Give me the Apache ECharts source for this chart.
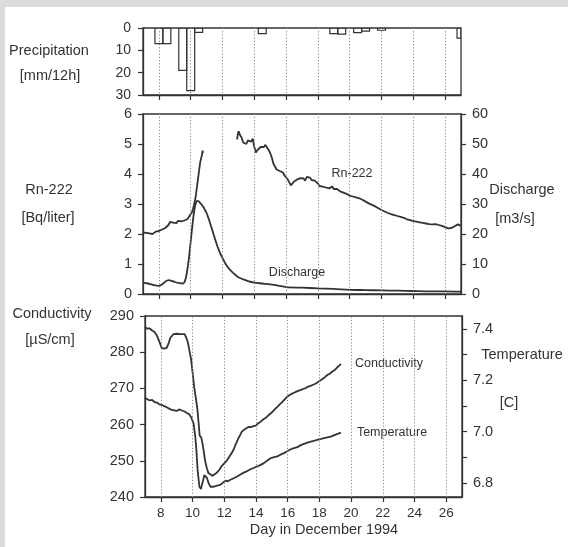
<!DOCTYPE html>
<html>
<head>
<meta charset="utf-8">
<script src="https://cdn.jsdelivr.net/npm/echarts@6/dist/echarts.min.js"></script>
<style>
  html, body { margin: 0; padding: 0; background: #dcdcdc; }
  #chart { width: 568px; height: 547px; }
</style>
</head>
<body>
<div id="chart"></div>
<script>
// ---------- DATA ----------
const dayTicks = [8, 10, 12, 14, 16, 18, 20, 22, 24, 26];

// Precipitation per 12 h, bar centre day and mm
const precipDays = [8.0, 8.5, 9.5, 10.0, 10.5, 14.5, 19.0, 19.5, 20.5, 21.0, 22.0, 27.0];
const precipMm   = [7,   7,   19,  28,   2,    2.5,  2.5,  2.7,  2.1,  1.4,  1.0,  4.5];

// Rn-222 [Bq/liter]  (null = gap in record)
const rn222 = [
  [7.0,2.05],[7.1,2.1],[7.2,2.04],[7.3,2.08],[7.4,2.02],[7.5,2.07],[7.6,2.0],[7.7,2.06],[7.8,2.08],[7.9,2.03],
  [8.0,2.1],[8.1,2.12],[8.2,2.15],[8.3,2.13],[8.4,2.2],[8.5,2.18],[8.6,2.3],[8.7,2.4],[8.8,2.45],[8.9,2.38],
  [9.0,2.42],[9.1,2.36],[9.2,2.44],[9.3,2.38],[9.4,2.42],[9.5,2.37],[9.6,2.45],[9.7,2.48],[9.8,2.5],[9.9,2.58],
  [10.0,2.62],[10.1,2.75],[10.2,2.95],[10.3,3.2],[10.4,3.6],[10.5,4.0],[10.6,4.4],[10.7,4.62],[10.75,4.78],[10.78,4.7],
  [11.5,null],
  [12.92,5.15],[12.97,5.35],[13.02,5.42],[13.1,5.3],[13.2,5.22],[13.3,5.05],[13.4,5.1],[13.5,5.0],[13.6,5.12],[13.7,5.15],
  [13.8,5.08],[13.9,5.18],[14.0,4.9],[14.1,4.72],[14.2,4.8],[14.3,4.85],[14.4,4.9],[14.5,4.95],[14.6,4.9],[14.7,4.97],
  [14.8,4.92],[14.9,4.8],[15.0,4.7],[15.1,4.55],[15.2,4.35],[15.3,4.25],[15.4,4.15],[15.5,4.18],[15.6,4.1],[15.7,4.12],
  [15.8,4.05],[15.9,3.95],[16.0,3.9],[16.1,3.82],[16.2,3.72],[16.3,3.62],[16.4,3.58],[16.5,3.75],[16.6,3.7],[16.7,3.82],
  [16.8,3.78],[16.9,3.86],[17.0,3.8],[17.1,3.85],[17.2,3.78],[17.3,3.9],[17.4,3.84],[17.5,3.88],[17.6,3.8],[17.7,3.86],
  [17.8,3.78],[17.9,3.74],[18.0,3.68],[18.1,3.6],[18.2,3.62],[18.3,3.58],[18.4,3.64],[18.5,3.55],[18.6,3.58],[18.7,3.52],
  [18.8,3.56],[18.9,3.58],[19.0,3.5],[19.1,3.53],[19.2,3.5],[19.3,3.45],[19.4,3.42],[19.5,3.44],[19.6,3.38],[19.7,3.4],
  [19.8,3.34],[19.9,3.31],[20.0,3.28],[20.1,3.3],[20.2,3.25],[20.3,3.26],[20.4,3.22],[20.5,3.23],[20.6,3.19],[20.7,3.17],
  [20.8,3.14],[20.9,3.12],[21.0,3.08],[21.1,3.06],[21.2,3.02],[21.3,3.01],[21.4,2.97],[21.5,2.95],[21.6,2.92],[21.7,2.88],
  [21.8,2.86],[21.9,2.83],[22.0,2.8],[22.1,2.79],[22.2,2.75],[22.3,2.73],[22.4,2.7],[22.5,2.69],[22.6,2.66],[22.7,2.65],
  [22.8,2.63],[22.9,2.61],[23.0,2.6],[23.1,2.58],[23.2,2.57],[23.3,2.55],[23.4,2.54],[23.5,2.51],[23.6,2.49],[23.7,2.48],
  [23.8,2.46],[23.9,2.45],[24.0,2.43],[24.1,2.43],[24.2,2.41],[24.3,2.4],[24.4,2.39],[24.5,2.38],[24.6,2.37],[24.7,2.36],
  [24.8,2.35],[24.9,2.34],[25.0,2.33],[25.1,2.31],[25.2,2.32],[25.3,2.34],[25.4,2.33],[25.5,2.31],[25.6,2.3],[25.7,2.29],
  [25.8,2.27],[25.9,2.25],[26.0,2.23],[26.1,2.21],[26.2,2.19],[26.3,2.18],[26.4,2.2],[26.5,2.23],[26.6,2.26],[26.7,2.3],
  [26.8,2.32],[26.9,2.3],[27.0,2.27]
];

// Discharge [m3/s]
const discharge = [
  [7.0,3.8],[7.3,3.5],[7.65,3.0],[8.0,2.7],[8.2,3.2],[8.4,4.1],[8.6,4.6],[8.8,4.4],[9.0,4.0],[9.3,3.6],
  [9.5,3.5],[9.6,3.9],[9.7,5.5],[9.8,8.5],[9.9,12.5],[10.0,17.5],[10.1,22.5],[10.2,27.0],[10.3,29.8],[10.4,31.0],
  [10.5,30.9],[10.6,30.3],[10.7,29.7],[10.8,29.0],[10.9,28.0],[11.0,27.0],[11.1,25.5],[11.2,24.0],[11.3,22.3],[11.4,20.6],
  [11.5,18.8],[11.6,17.2],[11.7,15.6],[11.8,14.3],[11.9,13.0],[12.0,12.0],[12.2,10.0],[12.4,8.5],[12.6,7.4],[12.8,6.4],
  [13.0,5.6],[13.3,4.9],[13.6,4.3],[14.0,3.8],[14.5,3.5],[15.0,3.2],[15.5,2.8],[16.0,2.3],[17.0,2.1],[18.0,1.9],
  [19.0,1.7],[20.0,1.4],[21.0,1.3],[22.0,1.2],[23.0,1.1],[24.0,1.0],[25.0,0.9],[26.0,0.9],[27.0,0.8]
];

// Conductivity [uS/cm]
const conductivity = [
  [7.0,287.0],[7.15,286.5],[7.3,286.6],[7.45,286.0],[7.6,285.6],[7.75,284.6],[7.9,283.0],[8.05,281.2],[8.2,281.0],[8.37,281.2],
  [8.5,282.6],[8.6,284.0],[8.8,285.0],[9.0,285.1],[9.2,285.0],[9.5,285.0],[9.6,284.0],[9.7,282.8],[9.8,280.5],[9.9,278.3],
  [10.0,274.5],[10.1,270.5],[10.2,267.5],[10.3,264.5],[10.38,260.5],[10.45,257.0],[10.55,256.4],[10.62,255.0],[10.7,252.8],[10.8,249.8],
  [10.9,248.0],[11.0,246.6],[11.1,246.1],[11.25,245.9],[11.4,246.3],[11.55,246.8],[11.7,247.6],[11.85,248.6],[12.0,249.3],[12.15,250.0],
  [12.3,251.0],[12.45,252.0],[12.6,253.2],[12.7,254.3],[12.8,255.3],[12.9,256.3],[13.0,257.1],[13.1,258.0],[13.25,258.6],[13.4,259.0],
  [13.55,259.4],[13.7,259.3],[13.85,259.6],[14.0,259.7],[14.15,260.4],[14.3,260.8],[14.45,261.4],[14.6,261.8],[14.75,262.4],[14.9,263.0],
  [15.05,263.6],[15.2,264.3],[15.35,264.9],[15.5,265.6],[15.65,266.2],[15.8,266.9],[15.95,267.6],[16.1,268.1],[16.25,268.5],[16.4,268.8],
  [16.55,269.1],[16.7,269.4],[16.85,269.6],[17.0,269.9],[17.15,270.1],[17.3,270.5],[17.45,270.7],[17.6,271.0],[17.75,271.3],[17.9,271.7],
  [18.05,272.2],[18.2,272.6],[18.35,273.1],[18.5,273.7],[18.65,274.0],[18.8,274.6],[18.95,275.0],[19.1,275.7],[19.25,276.3],[19.36,276.8]
];

// Temperature [C]
const temperature = [
  [7.0,7.130],[7.15,7.126],[7.3,7.121],[7.45,7.123],[7.6,7.115],[7.75,7.113],[7.9,7.106],[8.05,7.104],[8.2,7.099],[8.37,7.095],
  [8.5,7.090],[8.69,7.084],[8.85,7.082],[9.0,7.080],[9.15,7.086],[9.32,7.082],[9.5,7.078],[9.64,7.072],[9.78,7.068],[9.85,7.064],
  [9.92,7.055],[9.98,7.050],[10.07,7.030],[10.17,6.980],[10.24,6.930],[10.32,6.850],[10.43,6.786],[10.53,6.776],[10.6,6.795],[10.67,6.810],
  [10.74,6.830],[10.82,6.826],[10.9,6.820],[11.01,6.800],[11.12,6.785],[11.23,6.779],[11.35,6.785],[11.44,6.783],[11.6,6.790],[11.75,6.792],
  [11.9,6.800],[12.07,6.809],[12.2,6.806],[12.39,6.812],[12.6,6.818],[12.81,6.825],[13.0,6.832],[13.23,6.840],[13.45,6.846],[13.65,6.853],
  [13.85,6.858],[14.08,6.864],[14.3,6.870],[14.5,6.877],[14.7,6.886],[14.92,6.896],[15.1,6.899],[15.34,6.903],[15.55,6.910],[15.77,6.916],
  [16.0,6.924],[16.19,6.931],[16.4,6.935],[16.61,6.939],[16.8,6.946],[17.03,6.952],[17.25,6.957],[17.46,6.961],[17.65,6.964],[17.88,6.968],
  [18.1,6.971],[18.3,6.974],[18.5,6.977],[18.72,6.980],[18.95,6.986],[19.15,6.991],[19.36,6.996]
];

const tempTicks  = [6.8, 6.9, 7.0, 7.1, 7.2, 7.3, 7.4];
const tempLabels = [6.8, 7.0, 7.2, 7.4];

// ---------- STYLE ----------
const FONT = '"Liberation Sans", Arial, Helvetica, sans-serif';
const INK = '#333333';
const LINE = '#333333';
const GRIDC = '#8a8a8a';

const chart = echarts.init(document.getElementById('chart'), null, { renderer: 'canvas' });

function gridMarks() {
  return {
    silent: true,
    symbol: ['none', 'none'],
    label: { show: false },
    lineStyle: { type: [1.2, 2], color: GRIDC, width: 1 },
    emphasis: { disabled: true },
    animation: false,
    data: dayTicks.map(d => ({ xAxis: d }))
  };
}

function xAxisFor(gridIndex, showLabels) {
  return {
    type: 'value', gridIndex, min: 7, max: 27,
    axisLine: { show: true, onZero: false, lineStyle: { color: LINE, width: 1.3 } },
    axisTick: { show: true, customValues: dayTicks, length: 5, inside: false, lineStyle: { color: LINE, width: 1.2 } },
    axisLabel: { show: showLabels, customValues: dayTicks, fontSize: 13.5, color: INK, fontFamily: FONT, margin: 9 },
    splitLine: { show: false }
  };
}

function yAxisBase(gridIndex, position, extra) {
  return Object.assign({
    type: 'value', gridIndex, position,
    axisLine: { show: true, onZero: false, lineStyle: { color: LINE, width: 1.3 } },
    axisTick: { show: true, length: 5, inside: false, lineStyle: { color: LINE, width: 1.2 } },
    axisLabel: { fontSize: 14.5, color: INK, fontFamily: FONT, margin: 11 },
    splitLine: { show: false }
  }, extra);
}

const lineStyleMain = { color: LINE, width: 1.8 };

function label(text, x, y, size) {
  return { type: 'text', silent: true, x, y,
    style: { text, fill: INK, font: size + 'px ' + FONT, align: 'center', verticalAlign: 'middle' } };
}

const option = {
  animation: false,
  backgroundColor: '#dcdcdc',
  textStyle: { fontFamily: FONT },
  graphic: [
    { type: 'rect', z: -10, silent: true, shape: { x: 5, y: 7, width: 563, height: 540 }, style: { fill: '#ffffff' } },
    label('Precipitation', 49, 51, 14.5),
    label('[mm/12h]', 50, 76, 14.5),
    label('Rn-222', 49, 190, 14.5),
    label('[Bq/liter]', 48, 218, 14.5),
    label('Conductivity', 52, 314, 14.5),
    label('[\u00B5S/cm]', 50, 340, 14.5),
    label('Discharge', 522, 190, 14.5),
    label('[m3/s]', 515, 219, 14.5),
    label('Temperature', 522, 355, 14.5),
    label('[C]', 509, 403, 14.5),
    label('Day in December 1994', 324, 530, 14.5),
    label('Rn-222', 352, 174, 12.5),
    label('Discharge', 297, 273, 12.5),
    label('Conductivity', 389, 364, 12.5),
    label('Temperature', 392, 433, 12.5)
  ],
  grid: [
    { left: 143, top: 28, width: 318, height: 67, show: true, borderColor: LINE, borderWidth: 1.3, backgroundColor: 'transparent' },
    { left: 143, top: 114, width: 318, height: 180, show: true, borderColor: LINE, borderWidth: 1.3, backgroundColor: 'transparent' },
    { left: 145, top: 316, width: 317, height: 181, show: true, borderColor: LINE, borderWidth: 1.3, backgroundColor: 'transparent' }
  ],
  xAxis: [xAxisFor(0, false), xAxisFor(1, false), xAxisFor(2, true)],
  yAxis: [
    yAxisBase(0, 'left', { min: 0, max: 30, interval: 10, inverse: true, axisLabel: { fontSize: 14, color: INK, fontFamily: FONT, margin: 12 } }),
    yAxisBase(1, 'left', { min: 0, max: 6, interval: 1 }),
    yAxisBase(1, 'right', { min: 0, max: 60, interval: 10 }),
    yAxisBase(2, 'left', { min: 240, max: 290, interval: 10 }),
    yAxisBase(2, 'right', {
      min: 6.745, max: 7.45,
      axisTick: { show: true, customValues: tempTicks, length: 5, lineStyle: { color: LINE, width: 1.2 } },
      axisLabel: { customValues: tempLabels, fontSize: 14.5, color: INK, fontFamily: FONT, margin: 11, formatter: v => Number(v).toFixed(1) }
    })
  ],
  series: [
    {
      name: 'Precipitation', type: 'custom', xAxisIndex: 0, yAxisIndex: 0, clip: true,
      data: precipDays.map((d, i) => [d, precipMm[i]]),
      renderItem: function (params, api) {
        const d = api.value(0), v = api.value(1);
        const p0 = api.coord([d - 0.25, 0]);
        const p1 = api.coord([d + 0.25, v]);
        const rect = echarts.graphic.clipRectByRect(
          { x: Math.min(p0[0], p1[0]), y: Math.min(p0[1], p1[1]), width: Math.abs(p1[0] - p0[0]), height: Math.abs(p1[1] - p0[1]) },
          { x: params.coordSys.x, y: params.coordSys.y, width: params.coordSys.width, height: params.coordSys.height }
        );
        return rect && { type: 'rect', shape: rect, style: { fill: 'none', stroke: LINE, lineWidth: 1.2 } };
      },
      markLine: gridMarks()
    },
    {
      name: 'Rn-222', type: 'line', xAxisIndex: 1, yAxisIndex: 1, data: rn222, showSymbol: false, symbol: 'none',
      connectNulls: false, lineStyle: lineStyleMain, markLine: gridMarks()
    },
    {
      name: 'Discharge', type: 'line', xAxisIndex: 1, yAxisIndex: 2, data: discharge, showSymbol: false, symbol: 'none',
      smooth: 0.3, lineStyle: lineStyleMain
    },
    {
      name: 'Conductivity', type: 'line', xAxisIndex: 2, yAxisIndex: 3, data: conductivity, showSymbol: false, symbol: 'none',
      lineStyle: lineStyleMain, markLine: gridMarks()
    },
    {
      name: 'Temperature', type: 'line', xAxisIndex: 2, yAxisIndex: 4, data: temperature, showSymbol: false, symbol: 'none',
      lineStyle: lineStyleMain
    }
  ]
};

chart.setOption(option);
</script>
</body>
</html>
